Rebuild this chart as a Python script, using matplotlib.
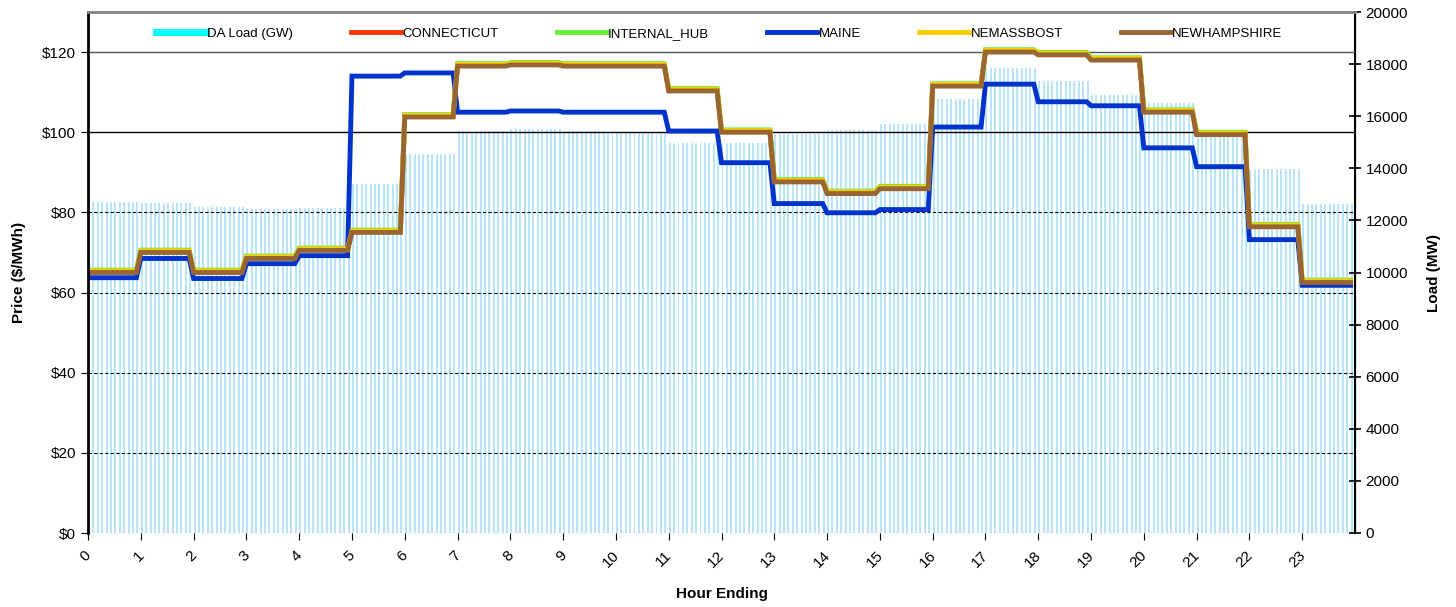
import numpy as np
import matplotlib
matplotlib.use("Agg")
from matplotlib import pyplot as plt
from matplotlib import transforms

plt.rcParams['font.family'] = ['Liberation Sans', 'DejaVu Sans']

# Hourly values (hour 0..23), each hour is shown as 12 five-minute intervals
hours = list(range(24))
load_mw = [12700, 12660, 12500, 12420, 12460, 13410, 14540, 15450, 15500, 15450, 15350, 14970,
           14970, 15330, 15470, 15700, 16660, 17850, 17350, 16800, 16500, 15210, 13960, 12630]
newhampshire = [65.0, 70.0, 65.0, 68.5, 70.5, 75.0, 103.8, 116.5, 116.8, 116.5, 116.5, 110.3,
                100.0, 87.6, 84.7, 85.9, 111.5, 120.0, 119.3, 118.0, 105.0, 99.4, 76.4, 62.5]
maine = [63.7, 68.5, 63.5, 67.2, 69.2, 114.0, 114.8, 105.0, 105.3, 105.0, 105.0, 100.3,
         92.4, 82.2, 79.9, 80.7, 101.3, 112.0, 107.6, 106.6, 96.1, 91.4, 73.2, 61.8]
connecticut = [v + 0.3 for v in newhampshire]
internal_hub = [v + 0.6 for v in newhampshire]
nemassbost = [v + 0.4 for v in newhampshire]

steps = 12
x = np.arange(24 * steps) / steps

def expand(vals):
    return np.repeat(vals, steps)

fig = plt.figure(figsize=(14.56, 6.07), dpi=100)
ax = fig.add_axes([88 / 1456, 1 - 533 / 607, (1355 - 88) / 1456, (533 - 12) / 607])
ax2 = ax.twinx()

# load bars on the right axis, behind the price lines
ax2.bar(x, expand(load_mw), width=0.45 / steps, align='edge', color='#b8e6f8', linewidth=0)
ax2.set_ylim(0, 20000)
ax2.set_yticks(range(0, 20001, 2000))
ax2.tick_params(axis='y', direction='inout', length=8, labelsize=11, width=1.2)
ax2.set_ylabel("Load (MW)", fontsize=11, fontweight='bold', labelpad=14)

ax.set_zorder(ax2.get_zorder() + 1)
ax.patch.set_visible(False)

series = [("CONNECTICUT", connecticut, '#ff3300'),
          ("INTERNAL_HUB", internal_hub, '#66ee33'),
          ("MAINE", maine, '#0033cc'),
          ("NEMASSBOST", nemassbost, '#ffcc00'),
          ("NEWHAMPSHIRE", newhampshire, '#996633')]

handles = [plt.Line2D([], [], color='#00ffff', lw=5)]
labels = ["DA Load (GW)"]
for name, vals, col in series:
    ln, = ax.plot(x, expand(vals), color=col, lw=3.5, solid_joinstyle='miter')
    handles.append(ln)
    labels.append(name)

ax.set_xlim(0, 24)
ax.set_ylim(0, 130)
ax.set_yticks(range(0, 121, 20))
ax.set_yticklabels(["$%d" % v for v in range(0, 121, 20)])
ax.set_xticks(hours)
ax.set_xticklabels([str(h) for h in hours], rotation=45, ha='right', rotation_mode='anchor')
ax.tick_params(axis='y', direction='out', length=5, labelsize=11)
ax.tick_params(axis='x', direction='out', length=5, labelsize=11, pad=6)
shift = transforms.ScaledTranslation(-4 / 100, 0, fig.dpi_scale_trans)
for lab in ax.get_xticklabels():
    lab.set_transform(lab.get_transform() + shift)

# gridlines
for v in range(0, 100, 20):
    ax.axhline(v, color='black', lw=0.8, ls=(0, (3, 2)), zorder=1)
ax.axhline(100, color='black', lw=1.0, zorder=1)
ax.axhline(120, color='#555555', lw=1.0, zorder=1)

ax.spines['left'].set_linewidth(2)
ax.spines['top'].set_color('#888888')
ax.spines['top'].set_linewidth(2)
ax.spines['bottom'].set_visible(False)
ax2.spines['bottom'].set_visible(False)
ax2.spines['top'].set_color('#888888')
ax2.spines['top'].set_linewidth(2)
ax2.spines['right'].set_linewidth(1.5)
ax2.spines['left'].set_visible(False)

ax.set_ylabel("Price ($/MWh)", fontsize=11, fontweight='bold', labelpad=12)
ax.set_xlabel("Hour Ending", fontsize=11, fontweight='bold', labelpad=12)

ax.legend(handles, labels, loc='upper center', bbox_to_anchor=(0.498, 0.993), ncol=6,
          frameon=False, fontsize=9.5, handlelength=3.8, columnspacing=4.4, handletextpad=0.1)

fig.savefig("out.png", dpi=100)
